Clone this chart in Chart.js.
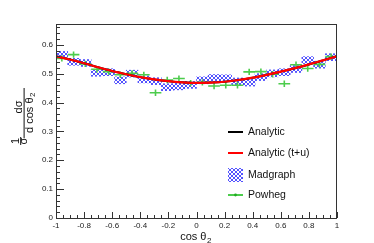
<!DOCTYPE html>
<html><head><meta charset="utf-8">
<script src="https://cdn.jsdelivr.net/npm/chart.js@4.4.0/dist/chart.umd.min.js"></script>
<style>html,body{margin:0;padding:0;background:#fff;overflow:hidden}</style>
</head><body>
<canvas id="c" width="374" height="243" style="width:374px;height:243px;display:block"></canvas>
<script>
// ---- data ----
const binCenters = [-0.9583,-0.875,-0.7917,-0.7083,-0.625,-0.5417,-0.4583,-0.375,-0.2917,-0.2083,-0.125,-0.0417,
                    0.0417,0.125,0.2083,0.2917,0.375,0.4583,0.5417,0.625,0.7083,0.7917,0.875,0.9583];
const madgraphVals = [0.565,0.541,0.537,0.503,0.505,0.477,0.500,0.480,0.474,0.453,0.456,0.461,
                      0.477,0.485,0.484,0.473,0.469,0.488,0.501,0.505,0.516,0.547,0.531,0.557];
const madgraphErr = 0.012;
const powhegVals = [0.553,0.566,0.534,0.515,0.507,0.496,0.501,0.496,0.434,0.478,0.483,0.467,
                    0.470,0.457,0.460,0.460,0.506,0.507,0.498,0.465,0.531,0.518,0.532,0.559];
const powhegXErr = 0.0417;
const powhegYErr = 0.011;
const analyticX = [-1,-0.9,-0.8,-0.7,-0.6,-0.5,-0.4,-0.3,-0.2,-0.1,0,0.1,0.2,0.3,0.4,0.5,0.6,0.7,0.8,0.9,1];
const analyticVals = [0.560,0.549,0.536,0.522,0.509,0.498,0.488,0.480,0.474,0.470,0.468,0.469,0.472,0.478,0.486,0.496,0.507,0.519,0.532,0.546,0.560];
const analyticTUVals = [0.560,0.549,0.536,0.522,0.509,0.498,0.488,0.480,0.474,0.470,0.468,0.469,0.472,0.478,0.486,0.496,0.507,0.519,0.532,0.546,0.560];
const xTicks = [-1,-0.8,-0.6,-0.4,-0.2,0,0.2,0.4,0.6,0.8,1];
const yTicks = [0,0.1,0.2,0.3,0.4,0.5,0.6];
const legendLabels = ['Analytic','Analytic (t+u)','Madgraph','Powheg'];

const FONT = "'Liberation Sans', Arial, sans-serif";
const GREEN = '#4ccc4c';
const BLUE = 'rgba(40,40,255,0.8)';

// hatch pattern
function makeHatch(){
  const t = document.createElement('canvas'); t.width = 4; t.height = 4;
  const g = t.getContext('2d');
  g.fillStyle = BLUE;
  [[0,0],[1,1],[2,2],[3,3],[3,0],[2,1],[1,2],[0,3]].forEach(p=>g.fillRect(p[0],p[1],1,1));
  return document.getElementById('c').getContext('2d').createPattern(t,'repeat');
}
const hatch = makeHatch();

const rootPlugin = {
  id:'rootStyle',
  afterDatasetDraw(chart, args){
    if (args.index !== 1) return;
    const ctx = chart.ctx, xs = chart.scales.x, ys = chart.scales.y;
    ctx.save();
    ctx.strokeStyle = GREEN; ctx.lineWidth = 1.6;
    powhegVals.forEach((v,i)=>{
      const cx = xs.getPixelForValue(binCenters[i]);
      const cy = ys.getPixelForValue(v);
      const x0 = xs.getPixelForValue(binCenters[i]-powhegXErr), x1 = xs.getPixelForValue(binCenters[i]+powhegXErr);
      const y0 = ys.getPixelForValue(v-powhegYErr), y1 = ys.getPixelForValue(v+powhegYErr);
      ctx.beginPath(); ctx.moveTo(x0,cy); ctx.lineTo(x1,cy); ctx.moveTo(cx,y0); ctx.lineTo(cx,y1); ctx.stroke();
    });
    ctx.restore();
  },
  afterDraw(chart){
    const ctx = chart.ctx, a = chart.chartArea, xs = chart.scales.x, ys = chart.scales.y;
    ctx.save();
    // frame
    ctx.strokeStyle = '#333'; ctx.lineWidth = 1;
    ctx.strokeRect(Math.round(a.left)+0.5, Math.round(a.top)+0.5, Math.round(a.right-a.left)-1, Math.round(a.bottom-a.top));
    // ticks
    ctx.beginPath();
    for (let k=0;k<=40;k++){
      const v = -1 + k*0.05;
      const px = Math.round(xs.getPixelForValue(v))+0.5;
      const len = (k%4===0) ? 6 : 3;
      ctx.moveTo(px, a.bottom); ctx.lineTo(px, a.bottom-len);
    }
    for (let k=0;k<=33;k++){
      const v = k*0.02;
      const py = Math.round(ys.getPixelForValue(v))+0.5;
      const len = (k%5===0) ? 8 : 4;
      ctx.moveTo(a.left, py); ctx.lineTo(a.left+len, py);
    }
    ctx.stroke();

    // x title
    ctx.fillStyle = '#111';
    ctx.font = '11px '+FONT; ctx.textBaseline = 'alphabetic';
    const t1 = 'cos θ'; const w1 = ctx.measureText(t1).width;
    ctx.font = '8px '+FONT; const w2 = ctx.measureText('2').width;
    const xc = (a.left+a.right)/2 - 1;
    let sx = xc - (w1+w2)/2;
    ctx.font = '11px '+FONT; ctx.textAlign='left'; ctx.fillText(t1, sx, 240);
    ctx.font = '8px '+FONT; ctx.fillText('2', sx+w1+0.5, 242.5);

    // y title (rotated)
    ctx.save();
    ctx.rotate(-Math.PI/2);
    const T = (txt, sxp, syp)=>ctx.fillText(txt, -syp, sxp);
    ctx.textAlign = 'center'; ctx.textBaseline = 'alphabetic';
    ctx.font = '11px '+FONT;
    T('1', 19, 141);
    T('σ', 27, 141);
    ctx.fillRect(-145, 20.2, 8, 1);
    T('dσ', 22, 107);
    ctx.fillRect(-138, 23.6, 50, 1);
    const d1 = 'd cos θ'; const dw1 = ctx.measureText(d1).width;
    ctx.font = '8px '+FONT; const dw2 = ctx.measureText('2').width;
    const start = 113 + (dw1+dw2)/2;
    ctx.textAlign = 'left';
    ctx.font = '11px '+FONT; ctx.fillText(d1, -start, 32.5);
    ctx.font = '8px '+FONT; ctx.fillText('2', -start+dw1+0.5, 35);
    ctx.restore();

    // legend
    const ly = [132, 153, 175, 195];
    const lx0 = 228, lx1 = 243, tx = 248;
    ctx.lineWidth = 2;
    ctx.strokeStyle = '#000'; ctx.beginPath(); ctx.moveTo(lx0, ly[0]); ctx.lineTo(lx1, ly[0]); ctx.stroke();
    ctx.strokeStyle = '#ff0000'; ctx.beginPath(); ctx.moveTo(lx0, ly[1]); ctx.lineTo(lx1, ly[1]); ctx.stroke();
    ctx.fillStyle = hatch; ctx.fillRect(lx0, ly[2]-7, lx1-lx0, 14);
    ctx.strokeStyle = GREEN; ctx.beginPath(); ctx.moveTo(lx0, ly[3]); ctx.lineTo(lx1, ly[3]); ctx.stroke();
    ctx.fillStyle = '#22aa22'; ctx.beginPath(); ctx.arc((lx0+lx1)/2, ly[3], 1.4, 0, Math.PI*2); ctx.fill();
    ctx.fillStyle = '#111'; ctx.font = '10.5px '+FONT; ctx.textAlign='left'; ctx.textBaseline='middle';
    legendLabels.forEach((s,i)=>ctx.fillText(s, tx, ly[i]+0.5));
    ctx.restore();
  }
};

new Chart(document.getElementById('c'), {
  data: {
    datasets: [
      { type:'bar', label:legendLabels[2], order:4,
        data: binCenters.map((x,i)=>({x:x, y:[madgraphVals[i]-madgraphErr, madgraphVals[i]+madgraphErr]})),
        backgroundColor: hatch, borderWidth:0, barPercentage:1, categoryPercentage:1, grouped:false },
      { type:'line', label:legendLabels[3], order:3,
        data: binCenters.map((x,i)=>({x:x, y:powhegVals[i]})),
        showLine:false, pointRadius:0, borderColor:GREEN },
      { type:'line', label:legendLabels[0], order:2,
        data: analyticX.map((x,i)=>({x:x, y:analyticVals[i]})),
        borderColor:'#000', borderWidth:2, pointRadius:0, cubicInterpolationMode:'monotone' },
      { type:'line', label:legendLabels[1], order:1,
        data: analyticX.map((x,i)=>({x:x, y:analyticTUVals[i]})),
        borderColor:'#ff0000', borderWidth:2.2, pointRadius:0, cubicInterpolationMode:'monotone' }
    ]
  },
  options: {
    responsive:false, animation:false, devicePixelRatio:1,
    layout:{ padding:{ left:0, right:37, top:24, bottom:0 } },
    plugins:{ legend:{display:false}, tooltip:{enabled:false} },
    scales:{
      x:{ type:'linear', min:-1, max:1, offset:false,
          grid:{display:false, drawTicks:false}, border:{display:false},
          afterFit(s){ s.height = 25; },
          afterBuildTicks(s){ s.ticks = xTicks.map(v=>({value:v})); },
          ticks:{ padding:3, maxRotation:0, autoSkip:false, color:'#222', font:{family:FONT, size:8},
                  callback:(v)=>String(Math.round(v*10)/10) } },
      y:{ type:'linear', min:0, max:0.672,
          grid:{display:false, drawTicks:false}, border:{display:false},
          afterFit(s){ s.width = 56; },
          afterBuildTicks(s){ s.ticks = yTicks.map(v=>({value:v})); },
          ticks:{ padding:3, color:'#222', font:{family:FONT, size:8},
                  callback:(v)=>String(Math.round(v*10)/10) } }
    }
  },
  plugins:[rootPlugin]
});
</script>
</body></html>
